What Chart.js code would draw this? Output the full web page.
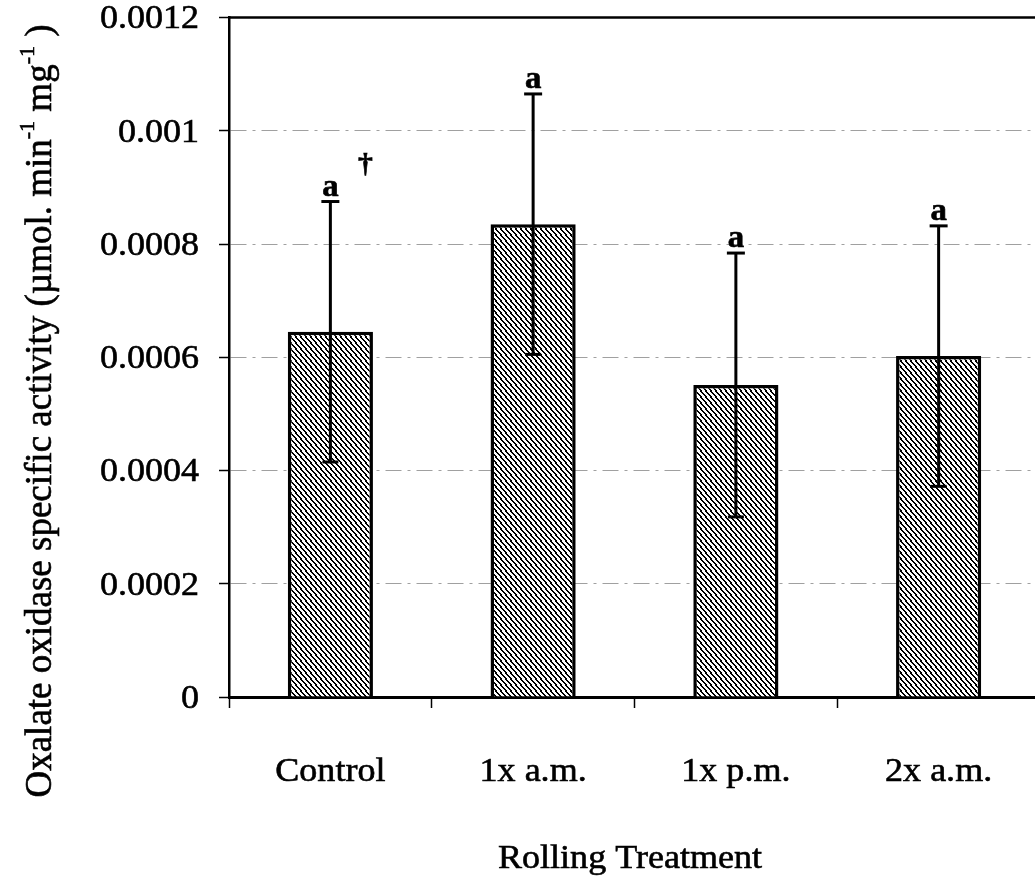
<!DOCTYPE html>
<html>
<head>
<meta charset="utf-8">
<script src="https://cdn.jsdelivr.net/npm/chart.js@4.4.1/dist/chart.umd.min.js"></script>
<style>
  html, body { margin: 0; padding: 0; background: #fff; overflow: hidden; }
  #wrap { width: 1035px; height: 880px; overflow: hidden; }
</style>
</head>
<body>
<div id="wrap"><canvas id="chart" width="1040" height="880"></canvas></div>
<script>
// data
const categories = ["Control", "1x a.m.", "1x p.m.", "2x a.m."];
const meanActivity = [0.000645, 0.000835, 0.000551, 0.000602];
const errorSize = [0.00023, 0.00023, 0.000233, 0.00023];
const groupLetters = ["a", "a", "a", "a"];
const extraMarks = ["†", "", "", ""];
const yTickLabels = ["0", "0.0002", "0.0004", "0.0006", "0.0008", "0.001", "0.0012"];
const xTitle = "Rolling Treatment";
const yTitleParts = [
  ["Oxalate oxidase specific activity (µmol. min", false],
  ["-1", true],
  [" mg", false],
  ["-1", true],
  [" )", false],
];

const SERIF = "'Liberation Serif', 'Times New Roman', serif";
const STRETCH = 1.06; // lettering in the figure is a bit wide

const canvas = document.getElementById("chart");
const ctx = canvas.getContext("2d");

// crisp pixel hatch, top-left to bottom-right
function makeHatch() {
  const w = 5, h = 6;
  const tile = document.createElement("canvas");
  tile.width = w;
  tile.height = h;
  const t = tile.getContext("2d");
  t.fillStyle = "#fff";
  t.fillRect(0, 0, w, h);
  t.fillStyle = "#000";
  for (let r = 0; r < h; r++) {
    const col = Math.floor(r * w / h);
    t.fillRect(col, r, 2, 1);
    if (col + 2 > w) t.fillRect(col + 2 - w - 2, r, 2, 1);
  }
  return ctx.createPattern(tile, "repeat");
}

// scan-like heavy serif text
function wideText(c, text, x, y, font, align, baseline) {
  c.save();
  c.font = font;
  c.textAlign = align;
  c.textBaseline = baseline || "middle";
  c.fillStyle = "#000";
  c.strokeStyle = "#000";
  c.lineWidth = 0.6;
  c.translate(x, y);
  c.scale(STRETCH, 1);
  c.fillText(text, 0, 0);
  c.strokeText(text, 0, 0);
  c.restore();
}

function line(c, x1, y1, x2, y2) {
  c.beginPath();
  c.moveTo(x1, y1);
  c.lineTo(x2, y2);
  c.stroke();
}

const errorBars = {
  id: "errorBars",
  afterDatasetsDraw(chart) {
    const { ctx: c, scales: { x, y } } = chart;
    c.save();
    c.strokeStyle = "#000";
    c.lineWidth = 3;
    meanActivity.forEach((m, i) => {
      const cx = x.getPixelForValue(i);
      const top = y.getPixelForValue(m + errorSize[i]);
      const bot = y.getPixelForValue(m - errorSize[i]);
      line(c, cx, top, cx, bot);
      line(c, cx - 9, top, cx + 9, top);
      line(c, cx - 8, bot, cx + 8, bot);
      wideText(c, groupLetters[i], cx, top - 6, "bold 31px " + SERIF, "center", "alphabetic");
      if (extraMarks[i]) {
        wideText(c, extraMarks[i], cx + 35, top - 37, "bold 28px " + SERIF, "center", "middle");
      }
    });
    c.restore();
  },
};

const axisText = {
  id: "axisText",
  afterDraw(chart) {
    const { ctx: c, chartArea, scales: { x, y } } = chart;
    c.save();
    // top frame line
    c.strokeStyle = "#000";
    c.lineWidth = 2.5;
    line(c, chartArea.left - 1, chartArea.top, chartArea.right, chartArea.top);

    // y tick labels
    y.ticks.forEach((t, i) => {
      wideText(c, yTickLabels[i], 199, y.getPixelForValue(t.value) + 2, "34px " + SERIF, "right");
    });

    // category labels
    categories.forEach((cat, i) => {
      wideText(c, cat, x.getPixelForValue(i), 772, "34px " + SERIF, "center");
    });

    // x title
    wideText(c, xTitle, 630, 868, "34px " + SERIF, "center", "alphabetic");

    // y title, rotated, with superscripts
    const base = "37px " + SERIF;
    const sup = "22px " + SERIF;
    let total = 0;
    yTitleParts.forEach(([txt, isSup]) => {
      c.font = isSup ? sup : base;
      total += c.measureText(txt).width;
    });
    c.translate(51, 411);
    c.rotate(-Math.PI / 2);
    c.fillStyle = "#000";
    c.strokeStyle = "#000";
    c.lineWidth = 0.6;
    c.textAlign = "left";
    c.textBaseline = "alphabetic";
    let pos = -total / 2;
    yTitleParts.forEach(([txt, isSup]) => {
      c.font = isSup ? sup : base;
      c.fillText(txt, pos, isSup ? -17 : 0);
      c.strokeText(txt, pos, isSup ? -17 : 0);
      pos += c.measureText(txt).width;
    });
    c.restore();
  },
};

new Chart(canvas, {
  type: "bar",
  data: {
    labels: categories,
    datasets: [{
      data: meanActivity,
      backgroundColor: makeHatch(),
      borderColor: "#000",
      borderWidth: 3.5,
      borderSkipped: "bottom",
      barPercentage: 0.42,
      categoryPercentage: 1.0,
    }],
  },
  options: {
    responsive: false,
    devicePixelRatio: 1,
    animation: false,
    layout: { padding: { top: 17.5, right: 0, left: 0, bottom: 0 } },
    plugins: { legend: { display: false }, tooltip: { enabled: false } },
    scales: {
      x: {
        offset: true,
        grid: { offset: true, drawOnChartArea: false, drawTicks: true, tickLength: 11, tickColor: "#000", tickWidth: 1.5 },
        border: { display: true, color: "#000", width: 3 },
        ticks: { display: false },
        afterFit(s) { s.height = 183; },
      },
      y: {
        min: 0,
        max: 0.0012,
        ticks: { stepSize: 0.0002, display: false },
        grid: {
          color: (c) => (c.tick && (c.tick.value < 1e-9 || c.tick.value > 0.00119)) ? "rgba(0,0,0,0)" : "#a0a0a0",
          lineWidth: 1,
          drawTicks: true,
          tickLength: 10,
          tickColor: "#000",
          tickWidth: 1.5,
        },
        border: { display: true, color: "#000", width: 2.5, dash: [16, 6, 3, 6] },
        afterFit(s) { s.width = 229; },
      },
    },
  },
  plugins: [errorBars, axisText],
});
</script>
</body>
</html>
